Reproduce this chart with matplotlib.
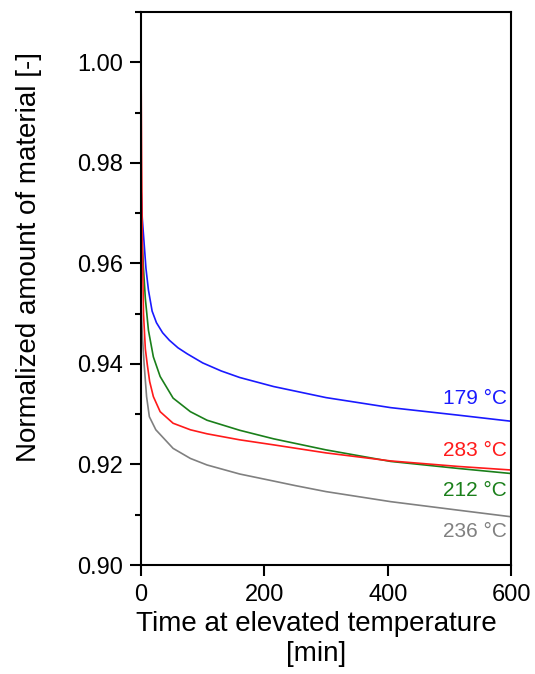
import matplotlib.pyplot as plt
from matplotlib.ticker import MultipleLocator

plt.rcParams['font.family'] = ['Liberation Sans', 'DejaVu Sans']

t_179 = [0, 2, 5, 8, 12, 18, 25, 35, 46, 60, 75, 100, 130, 160, 215, 300, 405, 515, 600]
v_179 = [0.975, 0.969, 0.964, 0.959, 0.9547, 0.9505, 0.9482, 0.9462, 0.9447, 0.9432,
         0.9420, 0.9402, 0.9386, 0.9373, 0.9355, 0.9333, 0.9313, 0.9298, 0.9286]

t_212 = [0, 2, 4, 7, 12, 20, 31, 52, 80, 107, 160, 215, 300, 405, 515, 600]
v_212 = [0.972, 0.964, 0.959, 0.953, 0.9467, 0.9414, 0.9375, 0.9332, 0.9305,
         0.9288, 0.9268, 0.9251, 0.9229, 0.9206, 0.9192, 0.9182]

t_283 = [0, 1, 2, 4, 7, 10, 14, 20, 31, 52, 80, 107, 160, 215, 300, 405, 515, 600]
v_283 = [1.000, 0.980, 0.965, 0.950, 0.943, 0.940, 0.9365, 0.9335, 0.9305, 0.9282,
         0.9269, 0.9261, 0.9249, 0.9239, 0.9223, 0.9207, 0.9196, 0.9189]

t_236 = [0, 2, 5, 9, 13.5, 24, 52, 80, 107, 160, 215, 250, 300, 405, 515, 600]
v_236 = [0.952, 0.946, 0.940, 0.9335, 0.9295, 0.9269, 0.9232, 0.9212, 0.9199,
         0.9181, 0.9167, 0.9158, 0.9146, 0.9126, 0.9109, 0.9096]

labels = ['179 °C', '283 °C', '212 °C', '236 °C']
label_y = [0.9332, 0.9227, 0.9149, 0.9066]
colors = ['#1a1aff', '#ff1a1a', '#1a7f1a', '#808080']

fig = plt.figure(figsize=(5.35, 6.74), dpi=100)
ax = fig.add_axes([0.2636, 0.1617, 0.6916, 0.8205])

ax.plot(t_179, v_179, color=colors[0], lw=1.2)
ax.plot(t_212, v_212, color=colors[2], lw=1.2)
ax.plot(t_236, v_236, color=colors[3], lw=1.2)
ax.plot(t_283, v_283, color=colors[1], lw=1.2)

for lab, y, c in zip(labels, label_y, colors):
    ax.text(593, y, lab, color=c, fontsize=15, ha='right', va='center')

ax.set_xlim(0, 600)
ax.set_ylim(0.90, 1.01)
ax.xaxis.set_major_locator(MultipleLocator(200))
ax.yaxis.set_major_locator(MultipleLocator(0.02))
ax.yaxis.set_minor_locator(MultipleLocator(0.01))
ax.yaxis.set_major_formatter(plt.FormatStrFormatter('%.2f'))
ax.tick_params(which='major', direction='out', length=8, width=1.5, labelsize=17, pad=5)
ax.tick_params(which='minor', direction='out', length=4, width=1.5)
ax.tick_params(axis='x', pad=6)
for s in ax.spines.values():
    s.set_linewidth(1.5)

ax.set_xlabel('Time at elevated temperature\n[min]', fontsize=20, linespacing=1.2)
ax.set_ylabel('Normalized amount of material [-]', fontsize=20)
ax.yaxis.set_label_coords(-0.268, 0.557)
ax.xaxis.set_label_coords(0.473, -0.083)
ax.xaxis.label.set_va('top')

fig.savefig('out.png', dpi=100)
